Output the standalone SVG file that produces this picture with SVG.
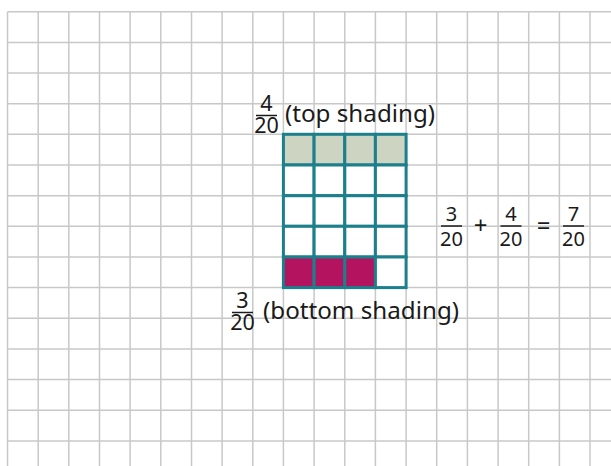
<svg xmlns="http://www.w3.org/2000/svg" width="611" height="466" viewBox="0 0 611 466">
<style>
.grid line{stroke:#c8c8c8;stroke-width:1.5}
.cell{stroke:#1b7f8c;stroke-width:3}
.t{font-family:"Noto Sans","Open Sans",sans-serif;fill:#1a1a1a}
.lbl{font-size:24.2px}
.fr{font-size:21.5px;text-anchor:middle}
.eq{font-size:20px;text-anchor:middle}
.op{font-size:24px;text-anchor:middle}
.bar{stroke:#1a1a1a;stroke-width:1.5}
</style>
<rect width="611" height="466" fill="#ffffff"/>
<g class="grid" id="grid">
<line x1="7.5" y1="11.7" x2="7.5" y2="466"/>
<line x1="38.2" y1="11.7" x2="38.2" y2="466"/>
<line x1="68.8" y1="11.7" x2="68.8" y2="466"/>
<line x1="99.5" y1="11.7" x2="99.5" y2="466"/>
<line x1="130.1" y1="11.7" x2="130.1" y2="466"/>
<line x1="160.8" y1="11.7" x2="160.8" y2="466"/>
<line x1="191.5" y1="11.7" x2="191.5" y2="466"/>
<line x1="222.1" y1="11.7" x2="222.1" y2="466"/>
<line x1="252.8" y1="11.7" x2="252.8" y2="466"/>
<line x1="283.4" y1="11.7" x2="283.4" y2="466"/>
<line x1="314.1" y1="11.7" x2="314.1" y2="466"/>
<line x1="344.8" y1="11.7" x2="344.8" y2="466"/>
<line x1="375.4" y1="11.7" x2="375.4" y2="466"/>
<line x1="406.1" y1="11.7" x2="406.1" y2="466"/>
<line x1="436.7" y1="11.7" x2="436.7" y2="466"/>
<line x1="467.4" y1="11.7" x2="467.4" y2="466"/>
<line x1="498.1" y1="11.7" x2="498.1" y2="466"/>
<line x1="528.7" y1="11.7" x2="528.7" y2="466"/>
<line x1="559.4" y1="11.7" x2="559.4" y2="466"/>
<line x1="590" y1="11.7" x2="590" y2="466"/>
<line x1="7.5" y1="11.7" x2="611" y2="11.7"/>
<line x1="7.5" y1="42.4" x2="611" y2="42.4"/>
<line x1="7.5" y1="73" x2="611" y2="73"/>
<line x1="7.5" y1="103.7" x2="611" y2="103.7"/>
<line x1="7.5" y1="134.3" x2="611" y2="134.3"/>
<line x1="7.5" y1="165" x2="611" y2="165"/>
<line x1="7.5" y1="195.7" x2="611" y2="195.7"/>
<line x1="7.5" y1="226.3" x2="611" y2="226.3"/>
<line x1="7.5" y1="257" x2="611" y2="257"/>
<line x1="7.5" y1="287.6" x2="611" y2="287.6"/>
<line x1="7.5" y1="318.3" x2="611" y2="318.3"/>
<line x1="7.5" y1="349" x2="611" y2="349"/>
<line x1="7.5" y1="379.6" x2="611" y2="379.6"/>
<line x1="7.5" y1="410.3" x2="611" y2="410.3"/>
<line x1="7.5" y1="440.9" x2="611" y2="440.9"/>
</g>
<g id="rectangle">
<rect x="283.4" y="134.3" width="30.7" height="30.7" fill="#ced4c2" class="cell"/>
<rect x="314.1" y="134.3" width="30.7" height="30.7" fill="#ced4c2" class="cell"/>
<rect x="344.8" y="134.3" width="30.6" height="30.7" fill="#ced4c2" class="cell"/>
<rect x="375.4" y="134.3" width="30.7" height="30.7" fill="#ced4c2" class="cell"/>
<rect x="283.4" y="165" width="30.7" height="30.7" fill="#ffffff" class="cell"/>
<rect x="314.1" y="165" width="30.7" height="30.7" fill="#ffffff" class="cell"/>
<rect x="344.8" y="165" width="30.6" height="30.7" fill="#ffffff" class="cell"/>
<rect x="375.4" y="165" width="30.7" height="30.7" fill="#ffffff" class="cell"/>
<rect x="283.4" y="195.7" width="30.7" height="30.6" fill="#ffffff" class="cell"/>
<rect x="314.1" y="195.7" width="30.7" height="30.6" fill="#ffffff" class="cell"/>
<rect x="344.8" y="195.7" width="30.6" height="30.6" fill="#ffffff" class="cell"/>
<rect x="375.4" y="195.7" width="30.7" height="30.6" fill="#ffffff" class="cell"/>
<rect x="283.4" y="226.3" width="30.7" height="30.7" fill="#ffffff" class="cell"/>
<rect x="314.1" y="226.3" width="30.7" height="30.7" fill="#ffffff" class="cell"/>
<rect x="344.8" y="226.3" width="30.6" height="30.7" fill="#ffffff" class="cell"/>
<rect x="375.4" y="226.3" width="30.7" height="30.7" fill="#ffffff" class="cell"/>
<rect x="283.4" y="257" width="30.7" height="30.6" fill="#b3135f" class="cell"/>
<rect x="314.1" y="257" width="30.7" height="30.6" fill="#b3135f" class="cell"/>
<rect x="344.8" y="257" width="30.6" height="30.6" fill="#b3135f" class="cell"/>
<rect x="375.4" y="257" width="30.7" height="30.6" fill="#ffffff" class="cell"/>
</g>
<g id="top-label">
<text class="t fr" x="266.5" y="111">4</text>
<line class="bar" x1="256" y1="115.5" x2="277" y2="115.5"/>
<text class="t fr" x="266.5" y="133">20</text>
<text class="t lbl" x="285" y="121.5">(top shading)</text>
</g>
<g id="bottom-label">
<text class="t fr" x="242.5" y="308">3</text>
<line class="bar" x1="232" y1="312.5" x2="253" y2="312.5"/>
<text class="t fr" x="242.5" y="330">20</text>
<text class="t lbl" x="263" y="318.5">(bottom shading)</text>
</g>
<g id="equation">
<text class="t eq" x="451.5" y="221">3</text>
<line class="bar" x1="441" y1="226" x2="462" y2="226"/>
<text class="t eq" x="451.5" y="246">20</text>
<text class="t op" x="480.5" y="234">+</text>
<text class="t eq" x="511" y="221">4</text>
<line class="bar" x1="500.5" y1="226" x2="521.5" y2="226"/>
<text class="t eq" x="511" y="246">20</text>
<text class="t op" x="543.5" y="234">=</text>
<text class="t eq" x="573.5" y="221">7</text>
<line class="bar" x1="563" y1="226" x2="584" y2="226"/>
<text class="t eq" x="573.5" y="246">20</text>
</g>
</svg>
